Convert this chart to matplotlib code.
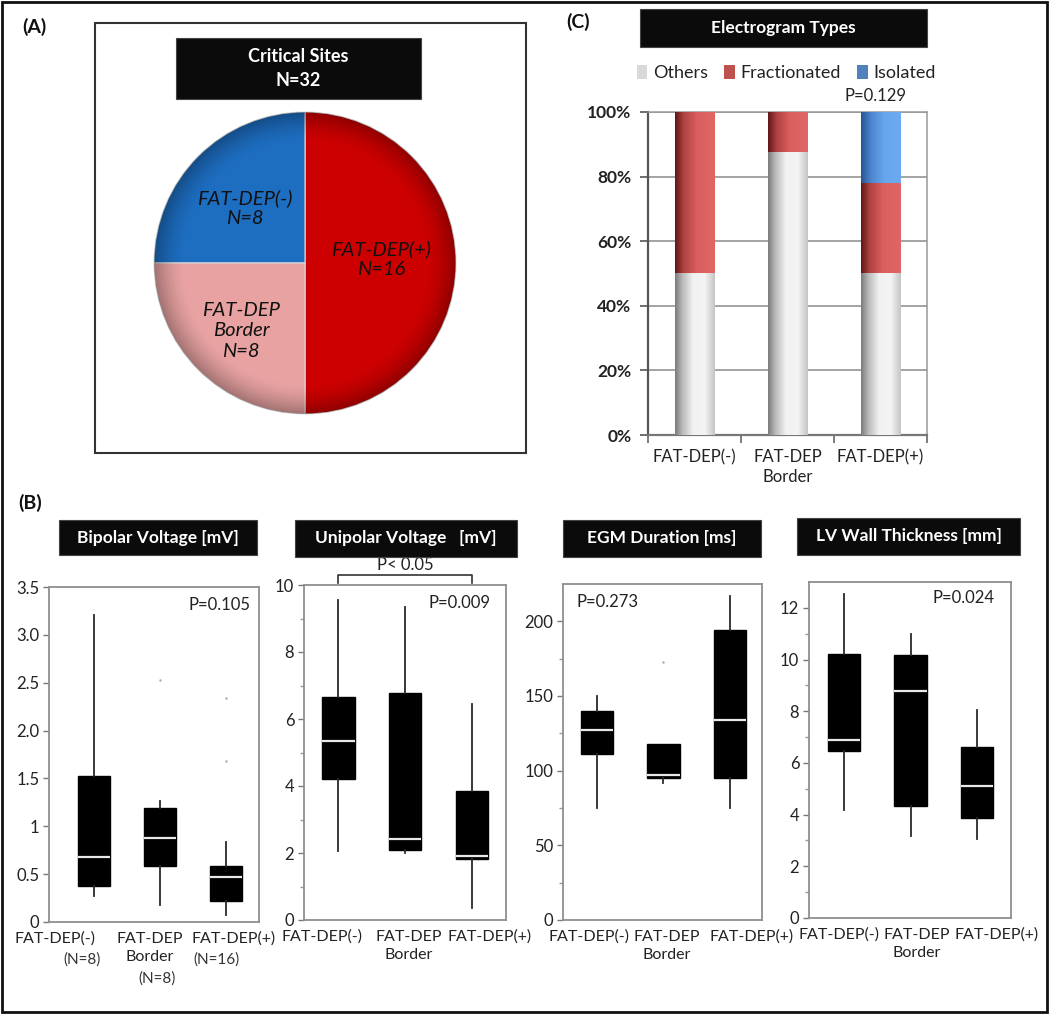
import numpy as np
import matplotlib
matplotlib.use('Agg')
import matplotlib.pyplot as plt
from matplotlib.patches import Rectangle, Circle
from matplotlib.colors import LinearSegmentedColormap

plt.rcParams['font.family'] = ['Lato', 'DejaVu Sans']

W, H = 1050, 1015

# ---------------- data ----------------
pie_counts = [16, 8, 8]
pie_names = ['FAT-DEP(+)\nN=16', 'FAT-DEP(-)\nN=8', 'FAT-DEP\nBorder\nN=8']
pie_colors = ['#cc0000', '#1d6dc0', '#e8a2a2']

egm_categories = ['FAT-DEP(-)', 'FAT-DEP\nBorder', 'FAT-DEP(+)']
egm_others = [50.0, 87.5, 50.0]
egm_fractionated = [50.0, 12.5, 28.1]
egm_isolated = [0.0, 0.0, 21.9]
egm_series = ['Others', 'Fractionated', 'Isolated']

group_labels = ['FAT-DEP(-)', 'FAT-DEP\nBorder', 'FAT-DEP(+)']
group_n = ['(N=8)', '(N=8)', '(N=16)']

# box stats: [whislo, q1, median, q3, whishi]
bip_stats = [[0.27, 0.38, 0.68, 1.53, 3.21], [0.18, 0.58, 0.88, 1.19, 1.26], [0.07, 0.22, 0.47, 0.59, 0.84]]
bip_fliers = [[], [2.53], [2.34, 1.68]]
uni_stats = [[2.06, 4.21, 5.35, 6.65, 9.55], [2.01, 2.09, 2.41, 6.77, 9.35], [0.35, 1.81, 1.92, 3.85, 6.45]]
uni_fliers = [[], [], []]
dur_stats = [[75, 111, 127, 140, 150], [92, 95, 97, 118, 118], [75, 95, 134, 194, 217]]
dur_fliers = [[], [173], []]
lv_stats = [[4.19, 6.45, 6.88, 10.23, 12.55], [3.19, 4.35, 8.8, 10.17, 10.97], [3.07, 3.85, 5.12, 6.6, 8.06]]
lv_fliers = [[], [], []]

p_values = ['P=0.105', 'P=0.009', 'P=0.273', 'P=0.024']
egm_p = 'P=0.129'

# ---------------- helpers ----------------
fig = plt.figure(figsize=(W / 100, H / 100), dpi=100)


def fx(x):
    return x / W


def fy(y):
    return 1 - y / H


def px_axes(x0, y0, x1, y1):
    return fig.add_axes([x0 / W, 1 - y1 / H, (x1 - x0) / W, (y1 - y0) / H])


def black_box(x0, y0, x1, y1, text, fs=12.5):
    fig.add_artist(Rectangle((fx(x0), fy(y1)), (x1 - x0) / W, (y1 - y0) / H,
                             transform=fig.transFigure, facecolor='#0b0b0b',
                             edgecolor='#444444', lw=0.8, zorder=5))
    fig.text(fx((x0 + x1) / 2), fy((y0 + y1) / 2), text, color='white',
             fontweight='bold', ha='center', va='center', fontsize=fs,
             zorder=6, linespacing=1.45)


# outer frame
fig.add_artist(Rectangle((fx(2), fy(1012)), 1045 / W, 1010 / H, transform=fig.transFigure,
                         fill=False, edgecolor='#111111', lw=2))

# ---------------- panel A ----------------
fig.text(fx(34), fy(27), '(A)', fontsize=14, fontweight='bold', ha='center', va='center', color='#111')
fig.add_artist(Rectangle((fx(95), fy(453)), (526 - 95) / W, (453 - 23) / H, transform=fig.transFigure,
                         fill=False, edgecolor='#333333', lw=1.5))
black_box(176, 38, 421, 99, 'Critical Sites\nN=32', fs=13)

axp = px_axes(154, 112, 456, 414)
wedges, _ = axp.pie(pie_counts, colors=pie_colors, startangle=-90, counterclock=True,
                    wedgeprops=dict(edgecolor='#dcdcdc', linewidth=0.8))
# subtle 3D shading at the rim
gx, gy = np.meshgrid(np.linspace(-1, 1, 300), np.linspace(-1, 1, 300))
rr = np.sqrt(gx ** 2 + gy ** 2)
shade = np.zeros((300, 300, 4))
shade[..., 3] = 0.30 * np.clip((rr - 0.80) / 0.20, 0, 1) ** 1.6
im = axp.imshow(shade, extent=[-1, 1, -1, 1], origin='lower', zorder=3, interpolation='bilinear')
im.set_clip_path(Circle((0, 0), 1.0, transform=axp.transData))
axp.set_xlim(-1.0, 1.0)
axp.set_ylim(-1.0, 1.0)
axp.axis('off')

pie_text_px = [(381, 259), (245, 208), (241, 331)]
for name, (tx, ty) in zip(pie_names, pie_text_px):
    fig.text(fx(tx), fy(ty), name, fontsize=14.5, fontstyle='italic', ha='center', va='center',
             color='#111111', linespacing=1.25, zorder=7)

# ---------------- panel C ----------------
fig.text(fx(578), fy(22), '(C)', fontsize=14, fontweight='bold', ha='center', va='center', color='#111')
black_box(640, 9, 927, 47, 'Electrogram Types', fs=12.5)

axc = px_axes(648, 112, 927, 435)
xc = np.arange(len(egm_categories))
bw = 0.43
b1 = axc.bar(xc, egm_others, width=bw, color='#d9d9d9', zorder=2, label=egm_series[0])
b2 = axc.bar(xc, egm_fractionated, bottom=egm_others, width=bw, color='#c0504d', zorder=2, label=egm_series[1])
b3 = axc.bar(xc, egm_isolated, bottom=np.add(egm_others, egm_fractionated), width=bw,
             color='#4f81bd', zorder=2, label=egm_series[2])

cm_gray = LinearSegmentedColormap.from_list('g', [(0, '#7a7a7a'), (0.18, '#b8b8b8'), (0.45, '#f1f1f1'),
                                                  (0.75, '#f4f4f4'), (1, '#c4c4c4')])
cm_red = LinearSegmentedColormap.from_list('r', [(0, '#5e1616'), (0.22, '#b04242'), (0.55, '#da5e5e'),
                                                 (1, '#e06666')])
cm_blue = LinearSegmentedColormap.from_list('b', [(0, '#27548f'), (0.25, '#4c86cf'), (0.6, '#67a6ee'),
                                                  (1, '#6cabf1')])
grad = np.linspace(0, 1, 256).reshape(1, -1)
for cont, cm in [(b1, cm_gray), (b2, cm_red), (b3, cm_blue)]:
    for r in cont.patches:
        if r.get_height() <= 0:
            continue
        axc.imshow(grad, cmap=cm, aspect='auto', interpolation='bilinear', zorder=3,
                   extent=[r.get_x(), r.get_x() + r.get_width(), r.get_y(), r.get_y() + r.get_height()])
axc.set_xlim(-0.5, 2.5)
axc.set_ylim(0, 100)
axc.set_aspect('auto')
axc.set_yticks(np.arange(0, 101, 20))
axc.set_yticklabels([f'{v}%' for v in range(0, 101, 20)], fontsize=12.5, fontweight='bold', color='#222')
axc.set_xticks(xc)
axc.set_xticklabels(egm_categories, fontsize=12, color='#222', linespacing=1.3)
axc.set_xticks(np.arange(-0.5, 3, 1), minor=True)
axc.tick_params(axis='x', which='major', length=0, pad=10)
axc.tick_params(axis='x', which='minor', length=6, width=1.2, color='#666', direction='out')
axc.tick_params(axis='y', length=6, width=1.2, color='#555', direction='out', pad=6)
axc.yaxis.grid(True, color='#8a8a8a', lw=1.1)
axc.set_axisbelow(True)
for s in ['top', 'right']:
    axc.spines[s].set_color('#999999')
    axc.spines[s].set_linewidth(1.1)
axc.spines['left'].set_color('#555555')
axc.spines['left'].set_linewidth(1.6)
axc.spines['bottom'].set_color('#777777')
axc.spines['bottom'].set_linewidth(1.6)
leg = axc.legend(handles=[b1, b2, b3], ncol=3, loc='center', bbox_to_anchor=(fx(786), fy(73)),
                 bbox_transform=fig.transFigure, frameon=False, fontsize=13, handlelength=0.6,
                 handleheight=0.8, handletextpad=0.3, columnspacing=0.9, borderpad=0)
for t in leg.get_texts():
    t.set_color('#222')
fig.text(fx(875), fy(96), egm_p, fontsize=12, ha='center', va='center', color='#222')

# ---------------- panel B ----------------
fig.text(fx(30), fy(503), '(B)', fontsize=14, fontweight='bold', ha='center', va='center', color='#111')


def box_panel(rect, stats, fliers, ylim, yticks, yticklabels, minor, xlim, label_pos, title, title_rect,
              ptext, ppx):
    ax = px_axes(*rect)
    bstats = [dict(whislo=s[0], q1=s[1], med=s[2], q3=s[3], whishi=s[4], fliers=f)
              for s, f in zip(stats, fliers)]
    ax.bxp(bstats, positions=[1, 2, 3], widths=0.49, patch_artist=True, showcaps=False,
           boxprops=dict(facecolor='black', edgecolor='black', linewidth=1),
           medianprops=dict(color='#e8e8e8', linewidth=1.6),
           whiskerprops=dict(color='#2a2a2a', linewidth=1.3),
           flierprops=dict(marker='o', markersize=1.8, markerfacecolor='#b0b0b0', markeredgecolor='none'))
    ax.set_xlim(*xlim)
    ax.set_ylim(*ylim)
    ax.set_yticks(yticks)
    ax.set_yticklabels(yticklabels, fontsize=12, color='#222')
    if minor is not None:
        ax.set_yticks(minor, minor=True)
    ax.set_xticks(label_pos)
    ax.set_xticklabels(group_labels, fontsize=11.5, color='#222', linespacing=1.4)
    ax.tick_params(axis='x', length=0, pad=7)
    ax.tick_params(axis='y', which='major', length=4, width=1, color='#777', direction='out', pad=3)
    ax.tick_params(axis='y', which='minor', length=3, width=1, color='#999', direction='out')
    for s in ax.spines.values():
        s.set_color('#8f8f8f')
        s.set_linewidth(1.3)
    black_box(*title_rect, title, fs=12.5)
    fig.text(fx(ppx[0]), fy(ppx[1]), ptext, fontsize=12, ha='center', va='center', color='#222')
    return ax


ax_bip = box_panel((49, 587, 259, 922), bip_stats, bip_fliers, (0, 3.5),
                   [0, 0.5, 1, 1.5, 2, 2.5, 3, 3.5], ['0', '0.5', '1', '1.5', '2.0', '2.5', '3.0', '3.5'],
                   None, (0.32, 3.5), [0.41, 1.85, 3.12], 'Bipolar Voltage [mV]', (59, 520, 257, 555),
                   p_values[0], (220, 605))
# (N=..) annotations under bipolar labels
for txt, (tx, ty) in zip(group_n, [(82, 960), (157, 979), (217, 960)]):
    fig.text(fx(tx), fy(ty), txt, fontsize=11, ha='center', va='center', color='#333')

ax_uni = box_panel((304, 585, 506, 920), uni_stats, uni_fliers, (0, 10),
                   np.arange(0, 11, 2), [str(v) for v in range(0, 11, 2)], np.arange(1, 10, 2),
                   (0.49, 3.51), [0.76, 2.05, 3.27], 'Unipolar Voltage   [mV]', (295, 520, 517, 557),
                   p_values[1], (460, 603))
# significance bracket between FAT-DEP(-) and FAT-DEP(+)
ax_uni.plot([1, 1, 3, 3], [10.06, 10.3, 10.3, 10.06], color='#333', lw=1.2, clip_on=False)
ax_uni.text(2, 10.6, 'P< 0.05', fontsize=12, ha='center', va='center', color='#222', clip_on=False)

ax_dur = box_panel((563, 584, 762, 920), dur_stats, dur_fliers, (0, 225),
                   np.arange(0, 201, 50), [str(v) for v in range(0, 201, 50)], np.arange(25, 225, 50),
                   (0.49, 3.48), [0.88, 2.05, 3.32], 'EGM Duration [ms]', (563, 520, 761, 557),
                   p_values[2], (607, 602))

ax_lv = box_panel((809, 582, 1011, 918), lv_stats, lv_fliers, (0, 13),
                  np.arange(0, 13, 2), [str(v) for v in range(0, 13, 2)], np.arange(1, 13, 2),
                  (0.47, 3.51), [0.92, 2.09, 3.3], 'LV Wall Thickness [mm]', (797, 518, 1020, 555),
                  p_values[3], (963, 598))

fig.savefig('out.png', dpi=100)
